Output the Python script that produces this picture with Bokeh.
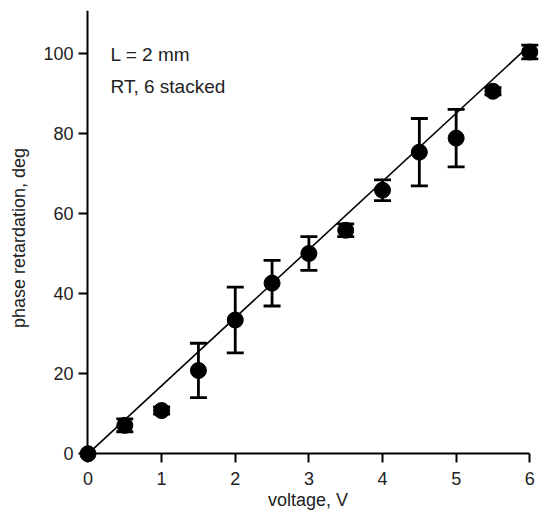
from bokeh.plotting import figure
from bokeh.models import (ColumnDataSource, Whisker, TeeHead, Label, FixedTicker,
                          Range1d, LinearAxis)
from bokeh.embed import file_html
from bokeh.resources import INLINE

# ---- data ----
voltage = [0.0, 0.5, 1.0, 1.5, 2.0, 2.5, 3.0, 3.5, 4.0, 4.5, 5.0, 5.5, 6.0]
retardation = [0.0, 7.1, 10.8, 20.8, 33.4, 42.6, 50.0, 55.8, 65.8, 75.3, 78.8, 90.5, 100.3]
error = [0.0, 1.6, 0.9, 6.8, 8.2, 5.7, 4.2, 1.6, 2.6, 8.4, 7.2, 0.9, 1.7]
fit_voltage = [0.0, 6.0]
fit_retardation = [0.0, 102.0]
x_ticks = [0, 1, 2, 3, 4, 5, 6]
y_ticks = [0, 20, 40, 60, 80, 100]
x_label = "voltage, V"
y_label = "phase retardation, deg"
notes = ["L = 2 mm", "RT, 6 stacked"]

FONT = "Liberation Sans"
TXT = "#222222"
Y_TOP = 110.66

p = figure(width=539, height=515, title=None, toolbar_location=None,
           output_backend="svg",
           x_range=Range1d(-0.156, 6.132), y_range=Range1d(-2.92, Y_TOP),
           min_border_left=76, min_border_right=0, min_border_top=10,
           min_border_bottom=50)
p.outline_line_color = None
p.grid.visible = False
p.background_fill_color = "white"
p.border_fill_color = "white"

# fitted line
p.line(fit_voltage, fit_retardation, line_color="black", line_width=1.6)

# error bars
eb_x = [v for v, e in zip(voltage, error) if e > 0]
eb_up = [r + e for r, e in zip(retardation, error) if e > 0]
eb_lo = [r - e for r, e in zip(retardation, error) if e > 0]
src_eb = ColumnDataSource(dict(x=eb_x, upper=eb_up, lower=eb_lo))
wh = Whisker(source=src_eb, base="x", upper="upper", lower="lower",
             dimension="height", line_color="black", line_width=2.8,
             upper_head=TeeHead(size=17, line_color="black", line_width=2.8),
             lower_head=TeeHead(size=17, line_color="black", line_width=2.8))
p.add_layout(wh)

# points
src = ColumnDataSource(dict(x=voltage, y=retardation))
p.scatter("x", "y", source=src, size=16, fill_color="black", line_color="black")

# outer axes: carry the tick labels and titles only
for ax in (p.xaxis[0], p.yaxis[0]):
    ax.axis_line_color = None
    ax.major_tick_line_color = None
    ax.minor_tick_line_color = None
    ax.major_tick_out = 0
    ax.major_tick_in = 0
    ax.major_label_text_font = FONT
    ax.major_label_text_font_size = "18px"
    ax.major_label_text_color = TXT
    ax.axis_label_text_font = FONT
    ax.axis_label_text_font_size = "18px"
    ax.axis_label_text_font_style = "normal"
    ax.axis_label_text_color = TXT
p.xaxis.ticker = FixedTicker(ticks=x_ticks)
p.yaxis.ticker = FixedTicker(ticks=y_ticks)
p.xaxis.major_label_standoff = 6
p.yaxis.major_label_standoff = 3
p.xaxis.axis_label = x_label
p.xaxis.axis_label_standoff = 2
p.yaxis.axis_label = y_label
p.yaxis.axis_label_standoff = 11

# axis lines and ticks through the origin
def origin_axis(ticks, bounds):
    return LinearAxis(fixed_location=0, ticker=FixedTicker(ticks=ticks), bounds=bounds,
                      axis_line_color="black", axis_line_width=2,
                      major_tick_line_color="black", major_tick_line_width=2,
                      major_tick_in=9, major_tick_out=0,
                      minor_tick_line_color=None, major_label_text_color=None,
                      major_label_standoff=0, axis_label=None)

p.add_layout(origin_axis(x_ticks, (0, 6)), "above")
p.add_layout(origin_axis(y_ticks, (0, Y_TOP)), "right")

# annotations
p.add_layout(Label(x=0.306, y=99.6, text=notes[0], text_align="left",
                   text_baseline="alphabetic", text_font=FONT,
                   text_font_size="19px", text_color=TXT))
p.add_layout(Label(x=0.306, y=91.8, text=notes[1], text_align="left",
                   text_baseline="alphabetic", text_font=FONT,
                   text_font_size="19px", text_color=TXT))

open("out.html", "w").write(file_html(p, INLINE))
